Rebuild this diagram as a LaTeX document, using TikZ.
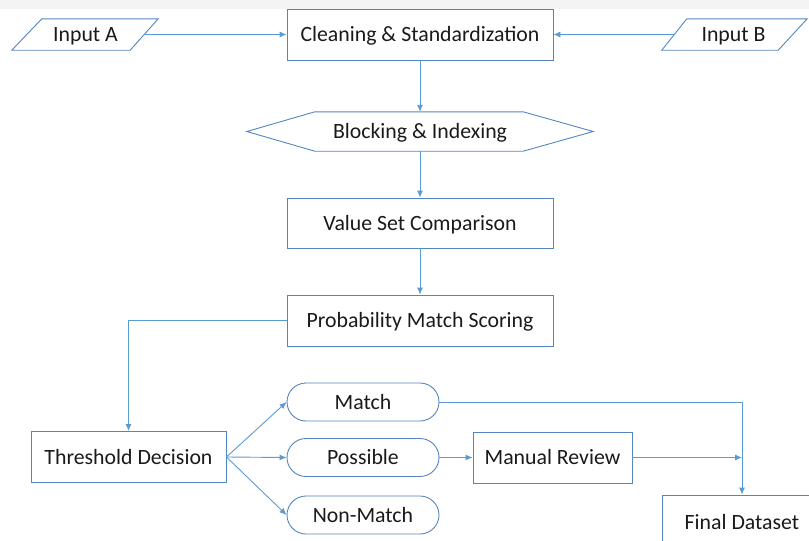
\documentclass[tikz,border=0pt]{standalone}
\usepackage{fontspec}
\setmainfont{Carlito}
\usetikzlibrary{arrows.meta,calc}
\definecolor{conn}{RGB}{91,155,213}
\definecolor{edge}{RGB}{84,134,190}
\definecolor{txt}{RGB}{26,26,26}
\definecolor{band}{RGB}{244,244,244}
\tikzset{
  every node/.style={font=\fontsize{21.8}{26}\selectfont, text=txt, text height=14pt, text depth=0pt},
  box/.style={draw=edge, line width=0.9pt, minimum width=266pt, minimum height=51pt, inner sep=0pt},
  ghost/.style={inner sep=0pt},
  pill/.style={draw=edge, line width=0.9pt, rounded corners=19pt, minimum width=152pt, minimum height=38pt, inner sep=0pt},
  shapeline/.style={draw=edge, line width=0.9pt},
  link/.style={draw=conn, line width=0.9pt},
  arr/.style={link, -{Latex[length=7pt,width=6pt]}}
}
\begin{document}
\begin{tikzpicture}[x=1pt,y=-1pt]
\useasboundingbox (0,0) rectangle (809,541);
\fill[band] (0,0) rectangle (809,8.5);

% inputs
\node[ghost, minimum width=117pt, minimum height=31pt] (inA) at (85.5,34.5) {Input A};
\draw[shapeline] ($(inA.south west)+(-15pt,0)$) -- ($(inA.north west)+(15pt,0)$) -- ($(inA.north east)+(14pt,0)$) -- ($(inA.south east)+(-14pt,0)$) -- cycle;
\node[ghost, minimum width=118pt, minimum height=31pt] (inB) at (733.5,34.5) {Input B};
\draw[shapeline] ($(inB.south west)+(-12.5pt,0)$) -- ($(inB.north west)+(12.5pt,0)$) -- ($(inB.north east)+(14.5pt,0)$) -- ($(inB.south east)+(-14.5pt,0)$) -- cycle;

\node[box] (clean) at (420,34.5) {Cleaning \& Standardization};

% blocking hexagon
\node[ghost, minimum width=346pt, minimum height=39pt] (blk) at (420,131.5) {Blocking \& Indexing};
\draw[shapeline] (blk.west) -- ($(blk.north west)+(68pt,0)$) -- ($(blk.north east)+(-70pt,0)$) -- (blk.east) -- ($(blk.south east)+(-70pt,0)$) -- ($(blk.south west)+(68pt,0)$) -- cycle;

\node[box, minimum height=50pt] (vsc) at (420,223) {Value Set Comparison};
\node[box] (pms) at (420,320.5) {Probability Match Scoring};

\node[box, minimum width=195pt, minimum height=51pt] (thr) at (128.5,457) {Threshold Decision};

\node[pill] (match) at (363,402) {Match};
\node[pill] (poss) at (363,457.5) {Possible};
\node[pill] (nonm) at (363,515) {Non-Match};

\node[box, minimum width=159pt, minimum height=51pt] (rev) at (552.5,457.5) {Manual Review};
\node[box, minimum width=160pt, minimum height=54pt] (fin) at (742,522) {Final Dataset};

\coordinate (merge) at (742,457.5);

% connectors
\draw[arr] (inA.east) -- (clean.west);
\draw[arr] (inB.west) -- (clean.east);
\draw[arr] (clean.south) -- (blk.north);
\draw[arr] (blk.south) -- (vsc.north);
\draw[arr] (vsc.south) -- (pms.north);
\draw[arr] (pms.west) -| (thr.north);
\draw[arr] (thr.east) -- (match.west);
\draw[arr] (thr.east) -- (poss.west);
\draw[arr] (thr.east) -- (nonm.west);
\draw[arr] (poss.east) -- (rev.west);
\draw[arr] (rev.east) -- (merge);
\draw[arr] (match.east) -| (fin.north);
\end{tikzpicture}
\end{document}
